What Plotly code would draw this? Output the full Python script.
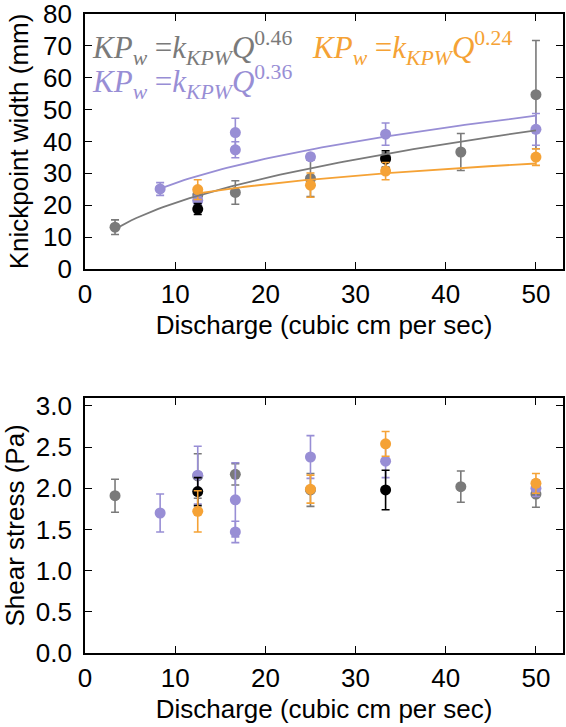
import numpy as np
import plotly.graph_objects as go

# ---------------- data ----------------
# Top panel: knickpoint width (mm)
q_gray = [3.33, 12.5, 16.67, 25.0, 33.33, 41.67, 50.0]
w_gray = [13.1, 23.2, 24.0, 28.4, 35.0, 36.7, 54.7]
we_gray = [2.3, 1.5, 3.7, 5.7, 1.5, 5.8, 17.0]

q_purple = [8.33, 12.5, 16.67, 16.67, 25.0, 33.33, 50.0]
w_purple = [25.1, 21.5, 42.8, 37.4, 35.2, 42.3, 43.8]
we_purple = [2.0, 1.5, 4.5, 2.5, 1.0, 3.5, 5.0]

q_orange = [12.5, 25.0, 33.33, 50.0]
w_orange = [24.9, 26.3, 30.7, 35.1]
we_orange = [3.1, 3.8, 2.7, 2.6]

q_black = [12.5, 33.33]
w_black = [18.8, 34.5]
we_black = [1.7, 2.6]

# power-law fits shown on the chart: KP_w = k * Q^b
fit_k = {"gray": 7.19, "purple": 11.76, "orange": 12.94}
fit_b = {"gray": 0.46, "purple": 0.36, "orange": 0.24}

# Bottom panel: shear stress (Pa)
s_gray_q = [3.33, 12.5, 16.67, 25.0, 41.67, 50.0]
s_gray = [1.91, 2.15, 2.17, 1.98, 2.02, 1.93]
se_gray = [0.20, 0.27, 0.13, 0.20, 0.19, 0.16]

s_purple_q = [8.33, 12.5, 16.67, 16.67, 25.0, 33.33, 50.0]
s_purple = [1.70, 2.16, 1.86, 1.47, 2.38, 2.33, 2.00]
se_purple = [0.23, 0.35, 0.45, 0.13, 0.26, 0.20, 0.10]

s_orange_q = [12.5, 25.0, 33.33, 50.0]
s_orange = [1.72, 1.99, 2.54, 2.06]
se_orange = [0.25, 0.17, 0.15, 0.12]

s_black_q = [12.5, 33.33]
s_black = [1.96, 1.98]
se_black = [0.17, 0.24]

x_ticks = [0, 10, 20, 30, 40, 50]
y1_ticks = [0, 10, 20, 30, 40, 50, 60, 70, 80]
y2_ticks = [0.0, 0.5, 1.0, 1.5, 2.0, 2.5, 3.0]

# ---------------- style ----------------
C_GRAY = "#7a7a7a"
C_PURPLE = "#988ED5"
C_ORANGE = "#F5A235"
C_BLACK = "#000000"
FONT = "Liberation Sans, Arial, sans-serif"
TICK_SIZE = 26
TITLE_SIZE = 26

fig = go.Figure()


def pts(x, y, e, color, xa, ya):
    fig.add_trace(go.Scatter(
        x=x, y=y, mode="markers", xaxis=xa, yaxis=ya,
        marker=dict(color=color, size=11, line=dict(width=0)),
        error_y=dict(type="data", array=e, visible=True, color=color,
                     thickness=1.6, width=4),
        showlegend=False, hoverinfo="skip"))


def fit(qs, name, color):
    q = np.linspace(min(qs), max(qs), 80)
    fig.add_trace(go.Scatter(
        x=q, y=fit_k[name] * q ** fit_b[name], mode="lines",
        xaxis="x", yaxis="y", line=dict(color=color, width=1.8),
        showlegend=False, hoverinfo="skip"))


# top panel
pts(q_gray, w_gray, we_gray, C_GRAY, "x", "y")
pts(q_purple, w_purple, we_purple, C_PURPLE, "x", "y")
pts(q_black, w_black, we_black, C_BLACK, "x", "y")
pts(q_orange, w_orange, we_orange, C_ORANGE, "x", "y")
fit(q_gray, "gray", C_GRAY)
fit(q_purple, "purple", C_PURPLE)
fit(q_orange, "orange", C_ORANGE)

# bottom panel
pts(s_gray_q, s_gray, se_gray, C_GRAY, "x2", "y2")
pts(s_purple_q, s_purple, se_purple, C_PURPLE, "x2", "y2")
pts(s_black_q, s_black, se_black, C_BLACK, "x2", "y2")
pts(s_orange_q, s_orange, se_orange, C_ORANGE, "x2", "y2")

axis_common = dict(
    showline=True, linecolor="black", linewidth=1.8, mirror="ticks",
    ticks="inside", ticklen=7, tickwidth=1.2, tickcolor="black",
    showgrid=False, zeroline=False, automargin=False,
    ticklabeloverflow="allow",
    tickfont=dict(family=FONT, size=TICK_SIZE, color="black"),
)

xtitle = dict(text="Discharge (cubic cm per sec)",
              font=dict(family=FONT, size=TITLE_SIZE, color="black"), standoff=8)

fig.update_layout(
    width=566, height=727,
    margin=dict(l=85, r=3, t=14, b=74),
    paper_bgcolor="white", plot_bgcolor="white",
    xaxis=dict(domain=[0, 1], range=[0, 53], tickvals=x_ticks, anchor="y",
               title=xtitle, ticklabelstandoff=1, **axis_common),
    yaxis=dict(domain=[0.601, 1], range=[0, 80], tickvals=y1_ticks, anchor="x",
               title=dict(text="Knickpoint width (mm)",
                          font=dict(family=FONT, size=TITLE_SIZE, color="black"),
                          standoff=7),
               ticklabelstandoff=6, **axis_common),
    xaxis2=dict(domain=[0, 1], range=[0, 53], tickvals=x_ticks, anchor="y2",
                title=xtitle, ticklabelstandoff=1, **axis_common),
    yaxis2=dict(domain=[0, 0.3995], range=[0, 3.1], tickvals=y2_ticks,
                ticktext=[f"{v:.1f}" for v in y2_ticks], anchor="x2",
                title=dict(text="Shear stress (Pa)",
                           font=dict(family=FONT, size=TITLE_SIZE, color="black"),
                           standoff=7),
                ticklabelstandoff=6, **axis_common),
)

EQ_FONT = "Liberation Serif, DejaVu Serif, serif"


def eq(text, x, y, color):
    fig.add_annotation(
        x=x, y=y, xref="x", yref="y", xanchor="left", yanchor="middle",
        text=text, showarrow=False,
        font=dict(family=EQ_FONT, size=31, color=color))


eq("<i>KP<sub>w</sub></i> =<i>k<sub>KPW</sub>Q</i><sup>0.46</sup>", 0.6, 69.3, C_GRAY)
eq("<i>KP<sub>w</sub></i> =<i>k<sub>KPW</sub>Q</i><sup>0.36</sup>", 0.6, 58.7, C_PURPLE)
eq("<i>KP<sub>w</sub></i> =<i>k<sub>KPW</sub>Q</i><sup>0.24</sup>", 25.0, 69.3, C_ORANGE)

fig.write_html("out.html", config={"displayModeBar": False},
               post_script="document.body.style.margin='0px';")
